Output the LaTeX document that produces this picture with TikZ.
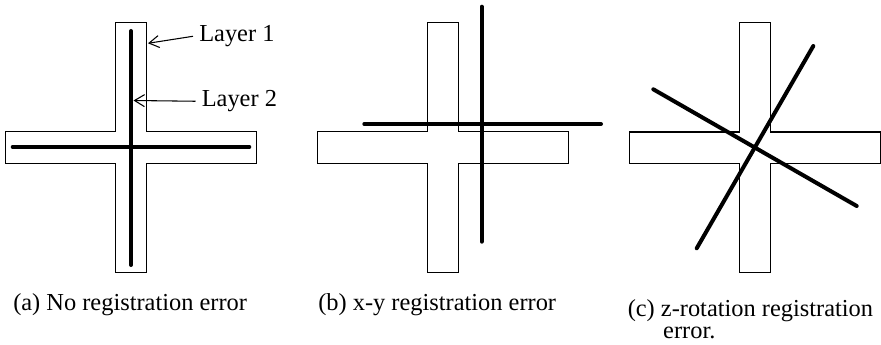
\documentclass[tikz,border=0pt]{standalone}
\usepackage{fontspec}
\setmainfont{Liberation Serif}
\usetikzlibrary{arrows.meta}
\begin{document}
\begin{tikzpicture}[x=0.75pt,y=-0.75pt,
  outline/.style={draw=black,line width=0.8pt,line join=miter},
  trace/.style={draw=black,line width=3pt,line cap=round},
  lbl/.style={inner xsep=4.5pt,inner ysep=0pt,font=\fontsize{18.3}{20}\selectfont},
  captext/.style={inner sep=0pt,anchor=base west,font=\fontsize{18.3}{16.2}\selectfont},
  pointer/.style={draw=black,line width=0.8pt,-{Straight Barb[length=7.5pt,width=9pt,line width=0.8pt]}},
  crossbox/.pic={\draw[outline] (-15.7,-125) -- (15.7,-125) -- (15.7,-15.8) -- (125.3,-15.8) -- (125.3,15.8) -- (15.7,15.8) -- (15.7,125) -- (-15.7,125) -- (-15.7,15.8) -- (-125.3,15.8) -- (-125.3,-15.8) -- (-15.7,-15.8) -- cycle;}]
\useasboundingbox (0,0) rectangle (881,345);
% crosses (layer 1)
\pic at (131,147.6) {crossbox};
\pic at (443,147.6) {crossbox};
\pic at (755,147.8) {crossbox};
% layer 2 traces
\coordinate (a1) at (131,31);
\coordinate (a2) at (131,265);
\coordinate (a3) at (12.7,147);
\coordinate (a4) at (249.3,147);
\draw[trace] (a1) -- (a2);
\draw[trace] (a3) -- (a4);
\coordinate (b1) at (481.7,6.7);
\coordinate (b2) at (481.7,241.7);
\coordinate (b3) at (364.3,124);
\coordinate (b4) at (601,124);
\draw[trace] (b1) -- (b2);
\draw[trace] (b3) -- (b4);
\coordinate (c1) at (653.3,89.3);
\coordinate (c2) at (856.7,206);
\coordinate (c3) at (813.3,46);
\coordinate (c4) at (696.7,248.3);
\draw[trace] (c1) -- (c2);
\draw[trace] (c3) -- (c4);
% labels
\node[lbl,anchor=base west] (l1) at (193,41.7) {Layer 1};
\node[lbl,anchor=base west] (l2) at (195.5,106.7) {Layer 2};
\coordinate (t1) at (148,43.3);
\coordinate (t2) at (133.5,100.5);
\draw[pointer] (l1.west) -- (t1);
\draw[pointer] (l2.west) -- (t2);
% captions
\node[captext] (capa) at (13,310) {(a) No registration error};
\node[captext] (capb) at (318,310) {(b) x-y registration error};
\node[captext,align=left] (capc) at (627.5,338.3) {(c) z-rotation registration\\\hspace*{26.6pt}error.};
\end{tikzpicture}
\end{document}
